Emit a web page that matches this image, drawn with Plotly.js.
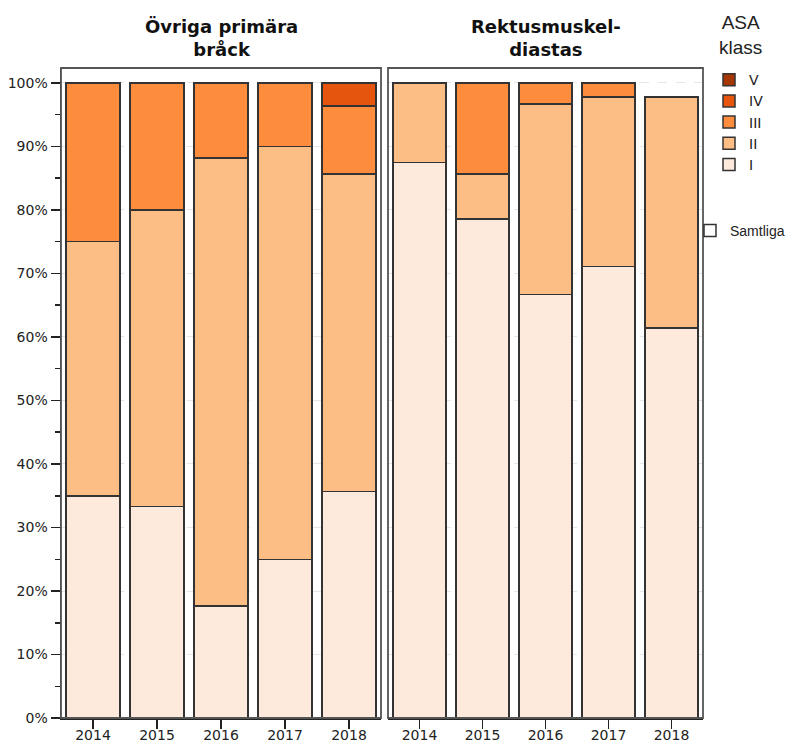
<!DOCTYPE html>
<html>
<head>
<meta charset="utf-8">
<script src="https://cdn.plot.ly/plotly-3.0.1.min.js"></script>
<style>html,body{margin:0;padding:0;background:#fff}#chart{width:787px;height:744px}</style>
</head>
<body>
<div id="chart"></div>
<script>
const years = ['2014', '2015', '2016', '2017', '2018'];
const classes = ['I', 'II', 'III', 'IV', 'V'];
const colors = ['#fdeadc', '#fdbe85', '#fd8d3c', '#e6550d', '#a63603'];
const panelTitles = ['Övriga primära<br>bråck', 'Rektusmuskel-<br>diastas'];
const yTickVals = [0, 10, 20, 30, 40, 50, 60, 70, 80, 90, 100];
const yTickText = ['0%', '10%', '20%', '30%', '40%', '50%', '60%', '70%', '80%', '90%', '100%'];

// Percent of patients per ASA class, panel "Övriga primära bråck"
const ovrigaI   = [35.0, 33.3, 17.6, 25.0, 35.7];
const ovrigaII  = [40.0, 46.7, 70.6, 65.0, 50.0];
const ovrigaIII = [25.0, 20.0, 11.8, 10.0, 10.7];
const ovrigaIV  = [0, 0, 0, 0, 3.6];
const ovrigaV   = [0, 0, 0, 0, 0];

// Percent of patients per ASA class, panel "Rektusmuskeldiastas"
const rektusI   = [87.5, 78.6, 66.7, 71.1, 61.4];
const rektusII  = [12.5, 7.1, 30.0, 26.7, 36.4];
const rektusIII = [0, 14.3, 3.3, 2.2, 0];
const rektusIV  = [0, 0, 0, 0, 0];
const rektusV   = [0, 0, 0, 0, 0];

const ovriga = [ovrigaI, ovrigaII, ovrigaIII, ovrigaIV, ovrigaV];
const rektus = [rektusI, rektusII, rektusIII, rektusIV, rektusV];

const barLine = {color: '#333333', width: 1.5};
const traces = [];
[ovriga, rektus].forEach((panel, p) => {
  panel.forEach((vals, i) => {
    traces.push({
      type: 'bar',
      x: years,
      y: vals,
      name: classes[i],
      legendgroup: classes[i],
      showlegend: p === 0,
      xaxis: p === 0 ? 'x' : 'x2',
      yaxis: p === 0 ? 'y' : 'y2',
      marker: {color: colors[i], line: barLine},
      hoverinfo: 'x+y+name'
    });
  });
});
// "Samtliga" legend entry
traces.push({
  type: 'bar', x: [null], y: [null], name: 'Samtliga',
  legend: 'legend2', showlegend: true, xaxis: 'x', yaxis: 'y',
  marker: {color: '#ffffff', line: barLine}
});

const fam = 'DejaVu Sans, Verdana, sans-serif';
const font = {family: fam, size: 14, color: '#222'};
const L = 61, R = 84, T = 68, B = 26;
const W = 787 - L - R;
const H = 744 - T - B;
const d1 = [0, (381 - L) / W];
const d2 = [(388 - L) / W, 1];

const xBase = {
  type: 'category', range: [-0.5, 4.5], showgrid: false, zeroline: false,
  showline: true, linecolor: '#222', linewidth: 1.5,
  ticks: 'outside', ticklen: 9, tickcolor: '#222', tickwidth: 1.5,
  ticklabelstandoff: -5,
  tickfont: font, fixedrange: true, automargin: false
};
const yBase = {
  range: [0, 102.36], tickmode: 'array', tickvals: yTickVals, ticktext: yTickText,
  showgrid: true, gridcolor: '#e6e6e6', griddash: 'dash', gridwidth: 1,
  zeroline: false, fixedrange: true, automargin: false
};

const layout = {
  width: 787, height: 744,
  margin: {l: L, r: R, t: T, b: B, autoexpand: false},
  paper_bgcolor: '#fff', plot_bgcolor: '#fff',
  font: font,
  barmode: 'stack', bargap: 0.16,
  showlegend: true,
  xaxis: Object.assign({}, xBase, {domain: d1, anchor: 'y'}),
  xaxis2: Object.assign({}, xBase, {domain: d2, anchor: 'y2'}),
  yaxis: Object.assign({}, yBase, {
    anchor: 'x', showline: true, linecolor: '#222', linewidth: 1.5,
    ticks: 'outside', ticklen: 9, tickcolor: '#222', tickwidth: 1.5,
    tickfont: font,
    minor: {dtick: 5, tick0: 0, ticks: 'outside', ticklen: 5, tickcolor: '#222', tickwidth: 1.5, showgrid: false}
  }),
  yaxis2: Object.assign({}, yBase, {
    anchor: 'x2', matches: 'y', showticklabels: false, ticks: '', showline: false
  }),
  legend: {
    x: (709 - L) / W, xanchor: 'left', y: 1.006, yanchor: 'top',
    traceorder: 'reversed', font: font, tracegroupgap: 0,
    itemwidth: 30, bgcolor: 'rgba(0,0,0,0)'
  },
  legend2: {
    x: (690 - L) / W, xanchor: 'left', y: (718 - 215) / H, yanchor: 'top',
    font: {family: 'Liberation Sans, Arial, sans-serif', size: 14, color: '#222'},
    bgcolor: 'rgba(0,0,0,0)', itemwidth: 30
  },
  shapes: [
    {type: 'rect', xref: 'paper', yref: 'paper', x0: d1[0], x1: d1[1], y0: 0, y1: 1,
     line: {color: '#555', width: 1.8}, fillcolor: 'rgba(0,0,0,0)', layer: 'above'},
    {type: 'rect', xref: 'paper', yref: 'paper', x0: d2[0], x1: d2[1], y0: 0, y1: 1,
     line: {color: '#555', width: 1.8}, fillcolor: 'rgba(0,0,0,0)', layer: 'above'}
  ],
  annotations: [
    {text: '<b>' + panelTitles[0] + '</b>', xref: 'paper', yref: 'paper',
     x: (d1[0] + d1[1]) / 2, xanchor: 'center', y: 1, yanchor: 'bottom', yshift: 6, showarrow: false,
     font: {family: fam, size: 18, color: '#111'}},
    {text: '<b>' + panelTitles[1] + '</b>', xref: 'paper', yref: 'paper',
     x: (d2[0] + d2[1]) / 2, xanchor: 'center', y: 1, yanchor: 'bottom', yshift: 6, showarrow: false,
     font: {family: fam, size: 18, color: '#111'}},
    {text: 'ASA<br>klass', xref: 'paper', yref: 'paper',
     x: (740 - L) / W, xanchor: 'center', y: 1, yanchor: 'bottom', yshift: 8, showarrow: false,
     font: {family: 'Liberation Sans, Arial, sans-serif', size: 19, color: '#222'}}
  ]
};

Plotly.newPlot('chart', traces, layout, {displayModeBar: false, staticPlot: true});
</script>
</body>
</html>
